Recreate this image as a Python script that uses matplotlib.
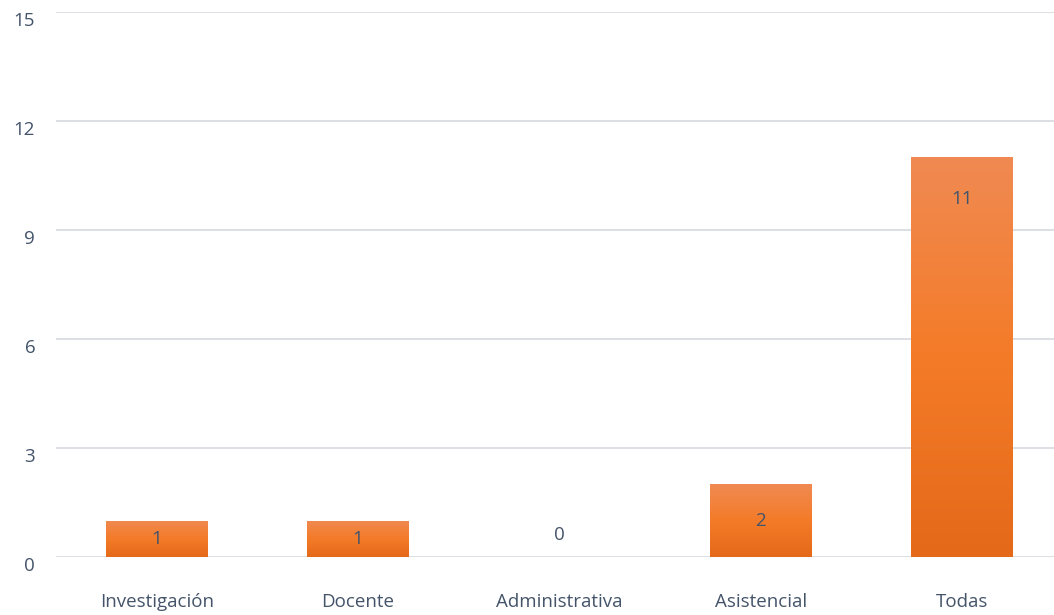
import numpy as np
import matplotlib.pyplot as plt
from matplotlib.colors import LinearSegmentedColormap

categorias = ["Investigación", "Docente", "Administrativa", "Asistencial", "Todas"]
valores = [1, 1, 0, 2, 11]
yticks = [0, 3, 6, 9, 12, 15]

texto = "#44546A"
plt.rcParams['font.family'] = ['Open Sans', 'DejaVu Sans']

fig = plt.figure(figsize=(10.54, 6.15), dpi=100)
ax = fig.add_axes([56 / 1054, 1 - 557 / 615, 1007 / 1054, 545 / 615])

x = np.arange(len(categorias))
bars = ax.bar(x, valores, width=0.506, color="#F47B2A", edgecolor="none", zorder=2)

# degradado naranja, claro arriba y oscuro abajo
cmap = LinearSegmentedColormap.from_list("naranja", ["#E46A19", "#F47B28", "#F08A52"])
grad = np.linspace(0, 1, 256).reshape(-1, 1)
for b in bars:
    h = b.get_height()
    if h <= 0:
        continue
    x0 = b.get_x()
    w = b.get_width()
    im = ax.imshow(grad, cmap=cmap, origin="lower", aspect="auto",
                   extent=[x0, x0 + w, 0, h], zorder=3)
    im.set_clip_path(b)

for xi, v in zip(x, valores):
    if v == 0:
        y = 0.6
    else:
        y = max(v - 1.15, v / 2)
    ax.text(xi, y, str(v), ha="center", va="center", fontsize=13.5, color=texto, zorder=4)

ax.set_xlim(-0.5, len(categorias) - 0.5)
ax.set_ylim(0, 15)
ax.set_yticks(yticks)
ax.set_xticks(x)
ax.set_xticklabels(categorias)
ax.tick_params(axis="both", length=0, labelsize=13.5, colors=texto)
ax.tick_params(axis="x", pad=26)
ax.tick_params(axis="y", pad=15)
for lbl in ax.get_yticklabels():
    lbl.set_verticalalignment("top")
ax.grid(axis="y", color="#D9DDE3", linewidth=1.3, zorder=0)
for s in ax.spines.values():
    s.set_visible(False)

fig.savefig("out.png", dpi=100)
